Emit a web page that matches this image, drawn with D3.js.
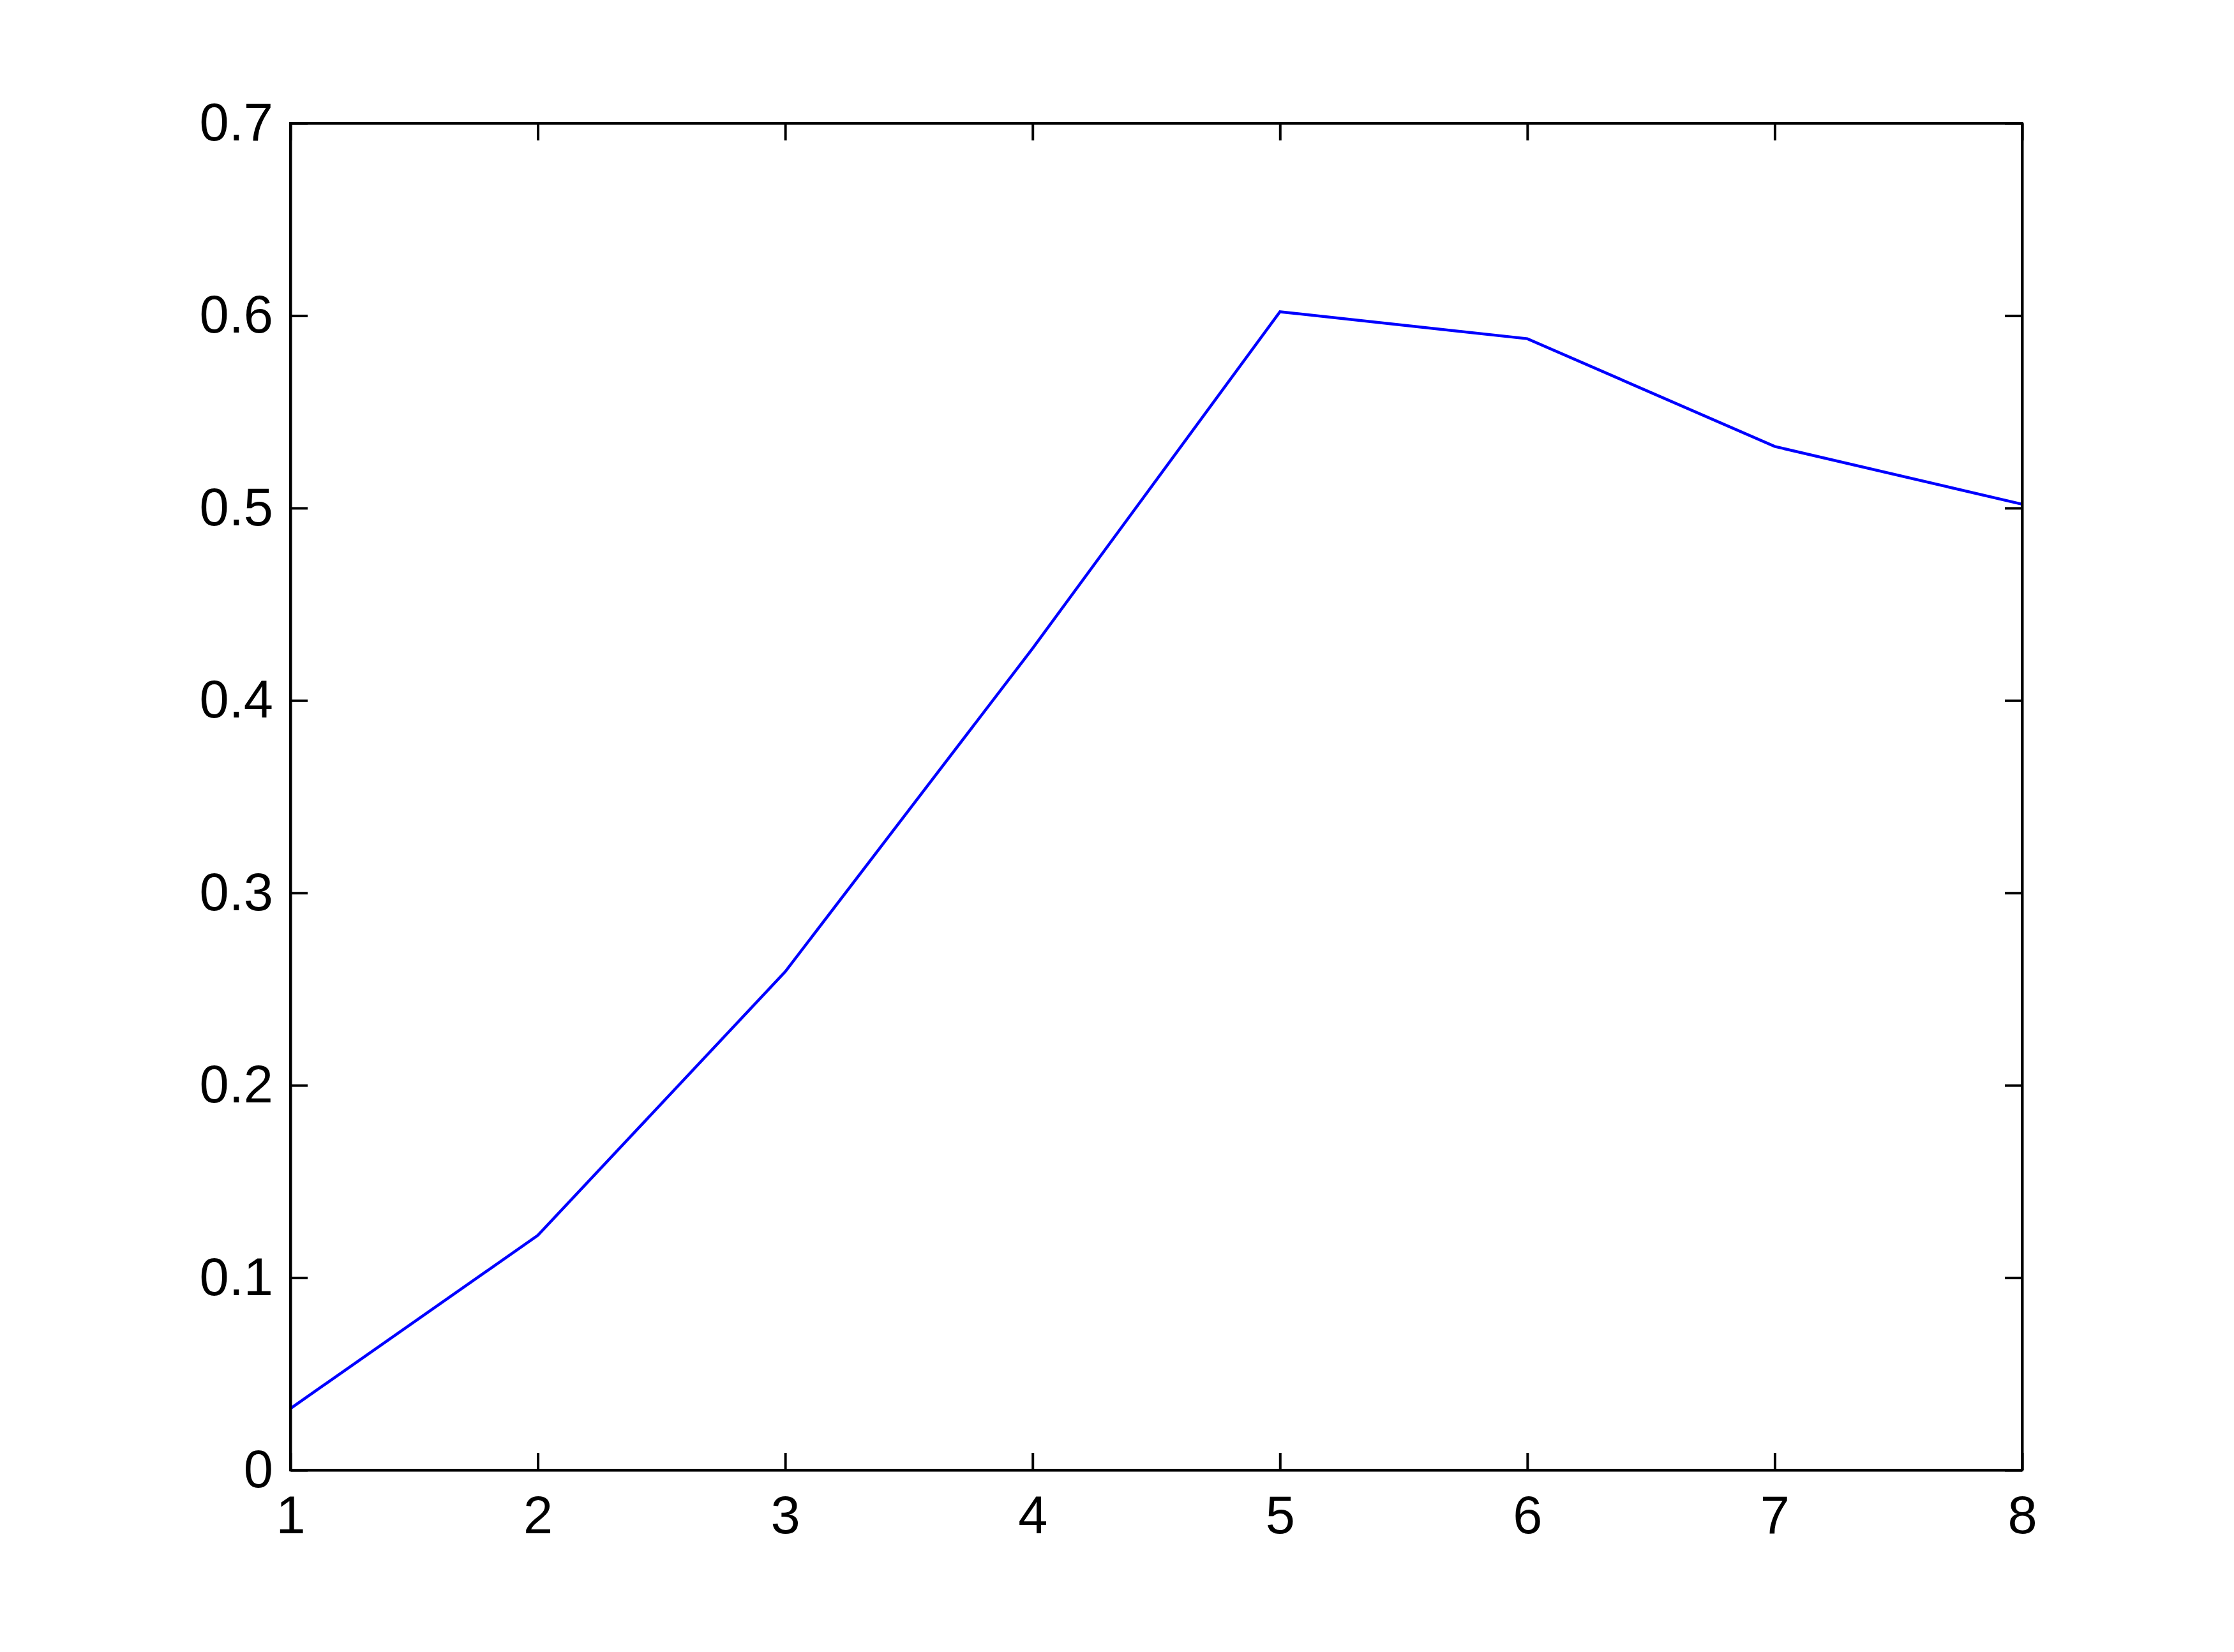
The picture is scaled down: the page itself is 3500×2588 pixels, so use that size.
<!DOCTYPE html>
<html>
<head>
<meta charset="utf-8">
<script src="https://cdn.jsdelivr.net/npm/d3@7"></script>
<style>
  body { margin: 0; background: #fff; }
  .axis text { font-family: "Liberation Sans", Arial, sans-serif; font-size: 83px; fill: #000; }
  .axis line, .axis path { stroke: #000; stroke-width: 4px; }
</style>
</head>
<body>
<svg class="plot"></svg>
<script>
var width = 3500, height = 2588;
var margin = { top: 193, right: 332, bottom: 285, left: 455 };

var xValues = [1, 2, 3, 4, 5, 6, 7, 8];
var yValues = [0.032, 0.122, 0.259, 0.427, 0.602, 0.588, 0.532, 0.502];
var xTicks = [1, 2, 3, 4, 5, 6, 7, 8];
var yTicks = [0, 0.1, 0.2, 0.3, 0.4, 0.5, 0.6, 0.7];

var points = xValues.map(function(x, i) { return { x: x, y: yValues[i] }; });

var svg = d3.select('svg.plot').attr('width', width).attr('height', height);
svg.append('rect').attr('width', width).attr('height', height).attr('fill', '#fff');

var innerW = width - margin.left - margin.right;
var innerH = height - margin.top - margin.bottom;

var x = d3.scaleLinear().domain([1, 8]).range([0, innerW]);
var y = d3.scaleLinear().domain([0, 0.7]).range([innerH, 0]);

var g = svg.append('g')
    .attr('transform', 'translate(' + margin.left + ',' + margin.top + ')');

var tick = 27;

// bottom and left axes with labels, ticks pointing in
g.append('g')
    .attr('class', 'axis')
    .attr('transform', 'translate(0,' + innerH + ')')
    .call(d3.axisBottom(x).tickValues(xTicks).tickFormat(d3.format('d'))
        .tickSizeInner(-tick).tickSizeOuter(0).tickPadding(40));

g.append('g')
    .attr('class', 'axis')
    .call(d3.axisLeft(y).tickValues(yTicks).tickFormat(function(d) { return d === 0 ? '0' : d3.format('.1f')(d); })
        .tickSizeInner(-tick).tickSizeOuter(0).tickPadding(27));

// mirrored ticks on top and right
g.append('g')
    .attr('class', 'axis')
    .call(d3.axisTop(x).tickValues(xTicks).tickFormat('')
        .tickSizeInner(-tick).tickSizeOuter(0));

g.append('g')
    .attr('class', 'axis')
    .attr('transform', 'translate(' + innerW + ',0)')
    .call(d3.axisRight(y).tickValues(yTicks).tickFormat('')
        .tickSizeInner(-tick).tickSizeOuter(0));

var line = d3.line()
    .x(function(d) { return x(d.x); })
    .y(function(d) { return y(d.y); });

g.append('path')
    .datum(points)
    .attr('d', line)
    .attr('fill', 'none')
    .attr('stroke', '#0000ff')
    .attr('stroke-width', 4.5)
    .attr('stroke-linejoin', 'miter');

// box
g.append('rect')
    .attr('width', innerW)
    .attr('height', innerH)
    .attr('fill', 'none')
    .attr('stroke', '#000')
    .attr('stroke-width', 4);
</script>
</body>
</html>
